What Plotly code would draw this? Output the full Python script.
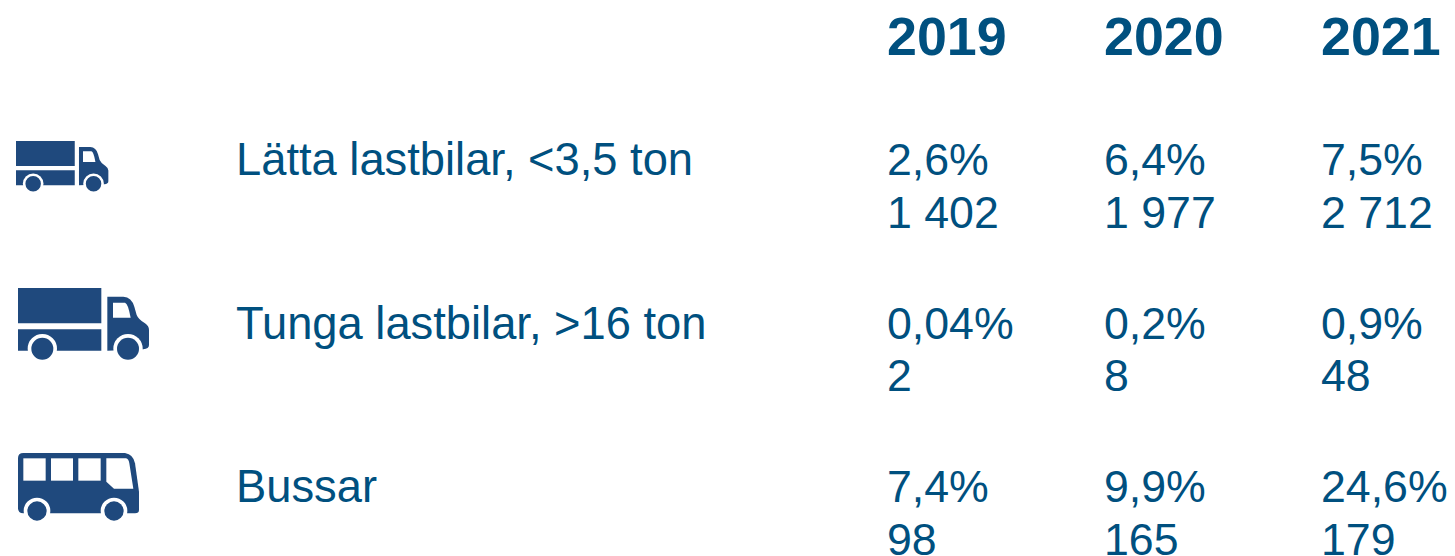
import plotly.graph_objects as go

WIDTH, HEIGHT = 1455, 556
years = ["2019", "2020", "2021"]
categories = ["Lätta lastbilar, <3,5 ton", "Tunga lastbilar, >16 ton", "Bussar"]
shares = [
    ["2,6%", "6,4%", "7,5%"],
    ["0,04%", "0,2%", "0,9%"],
    ["7,4%", "9,9%", "24,6%"],
]
counts = [
    ["1 402", "1 977", "2 712"],
    ["2", "8", "48"],
    ["98", "165", "179"],
]

TEXT = "#00507f"
ICON = "#1f497d"
FONT = "Liberation Sans, Arial, sans-serif"
col_x = [888, 1105, 1322]
label_x = 236
header_y = 36
share_y = [159, 323, 486]
count_y = [212, 375, 539]

shapes = []
annotations = []


def text(x, y, s, size, bold=False):
    annotations.append(dict(
        x=x, y=y, xref="x", yref="y", text=f"<b>{s}</b>" if bold else s,
        xanchor="left", yanchor="middle", showarrow=False, borderpad=0, borderwidth=0,
        font=dict(family=FONT, size=size, color=TEXT),
    ))


for x, yr in zip(col_x, years):
    text(x - 1, header_y, yr, 53.8, True)
for i, c in enumerate(categories):
    text(label_x - 0.5, share_y[i], c, 45.3)
    for j, x in enumerate(col_x):
        text(x - 1, share_y[i], shares[i][j], 44.7)
        text(x - 1, count_y[i], counts[i][j], 44.7)


def path(cmds, fn, fill):
    out = []
    for c in cmds:
        if isinstance(c, str):
            out.append(c)
        else:
            px, py = fn(*c)
            out.append(f"{px:.2f},{py:.2f}")
    shapes.append(dict(type="path", path=" ".join(out) + " Z", xref="x", yref="y",
                       fillcolor=fill, line=dict(width=0), layer="above"))


def circle(cx, cy, r, fn, scale, fill):
    px, py = fn(cx, cy)
    rr = r * scale
    shapes.append(dict(type="circle", xref="x", yref="y", x0=px - rr, x1=px + rr,
                       y0=py - rr, y1=py + rr, fillcolor=fill, line=dict(width=0), layer="above"))


def truck(ox, oy, k):
    s = k / 3
    fn = lambda x, y: (ox + (x - 54) * s, oy + (y - 24) * s)
    rect = lambda a, b, c, d: ["M", (a, b), "L", (c, b), "L", (c, d), "L", (a, d)]
    path(rect(54, 24, 304, 130), fn, ICON)
    path(rect(54, 148, 304, 212), fn, ICON)
    path(["M", (322, 50), "L", (370, 50), "Q", (395, 52), (403, 80), "L", (410, 105),
          "Q", (415, 118), (435, 130), "Q", (447, 138), (447, 150), "L", (447, 195),
          "Q", (447, 206), (430, 208), "L", (322, 212)], fn, ICON)
    path(["M", (339, 68), "L", (375, 68), "Q", (384, 70), (392, 113), "L", (339, 113)], fn, "white")
    for cx in (127, 384):
        circle(cx, 206, 44, fn, s, "white")
        circle(cx, 206, 33, fn, s, ICON)


def bus(ox, oy, k):
    s = k / 3
    fn = lambda x, y: (ox + (x - 54) * s, oy + (y - 24) * s)
    rect = lambda a, b, c, d: ["M", (a, b), "L", (c, b), "L", (c, d), "L", (a, d)]
    path(["M", (70, 24), "L", (375, 24), "Q", (400, 28), (405, 55), "L", (417, 140), "L", (417, 195),
          "Q", (417, 205), (405, 205), "L", (70, 205), "Q", (54, 205), (54, 190), "L", (54, 40),
          "Q", (54, 24), (70, 24)], fn, ICON)
    for a, c in ((70, 137), (153, 219), (235, 302)):
        path(rect(a, 40, c, 107), fn, "white")
    path(["M", (319, 40), "L", (378, 40), "Q", (386, 42), (388, 55), "L", (400, 131), "L", (342, 131),
          "L", (319, 110)], fn, "white")
    for cx in (111, 342):
        circle(cx, 198, 40, fn, s, "white")
        circle(cx, 198, 29, fn, s, ICON)


truck(16, 141, 0.705)
truck(18, 288, 1.0)
bus(18, 453, 1.0)

fig = go.Figure()
fig.update_layout(
    width=WIDTH, height=HEIGHT, margin=dict(l=0, r=0, t=0, b=0, pad=0),
    paper_bgcolor="white", plot_bgcolor="white", showlegend=False,
    xaxis=dict(range=[0, WIDTH], visible=False, fixedrange=True),
    yaxis=dict(range=[HEIGHT, 0], visible=False, fixedrange=True),
    shapes=shapes, annotations=annotations,
)
fig.write_html("out.html", config={"displayModeBar": False},
               post_script="document.body.style.margin='0';document.body.style.overflow='hidden';")
